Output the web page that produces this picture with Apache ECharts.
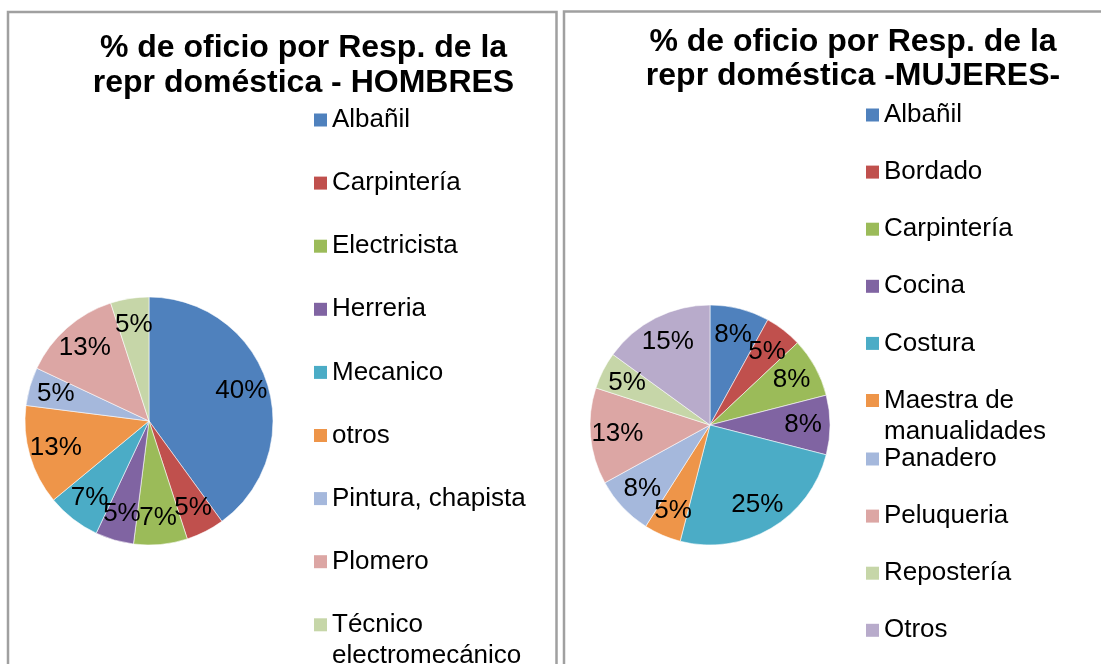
<!DOCTYPE html>
<html>
<head>
<meta charset="utf-8">
<script src="https://cdn.jsdelivr.net/npm/echarts@6/dist/echarts.min.js"></script>
<style>
html,body{margin:0;padding:0;background:#fff;}
#chart{width:1101px;height:664px;}
</style>
</head>
<body>
<div id="chart"></div>
<script>
const hombresCats = ['Albañil', 'Carpintería', 'Electricista', 'Herreria', 'Mecanico', 'otros', 'Pintura, chapista', 'Plomero', 'Técnico electromecánico'];
const hombresValues = [40, 5, 7, 5, 7, 13, 5, 13, 5];
const mujeresCats = ['Albañil', 'Bordado', 'Carpintería', 'Cocina', 'Costura', 'Maestra de manualidades', 'Panadero', 'Peluqueria', 'Repostería', 'Otros'];
const mujeresValues = [8, 5, 8, 8, 25, 5, 8, 13, 5, 15];
const palette = ['#4F81BD', '#C0504D', '#9BBB59', '#8064A2', '#4BACC6', '#EE9549', '#A5B8DC', '#DCA6A4', '#C6D6A8', '#B8ABCB'];
const titleHombres = '% de oficio por Resp. de la\nrepr doméstica - HOMBRES';
const titleMujeres = '% de oficio por Resp. de la\nrepr doméstica -MUJERES-';
const wrappedNames = {
  'Técnico electromecánico': 'Técnico\nelectromecánico',
  'Maestra de manualidades': 'Maestra de\nmanualidades'
};

const FONT = "'Liberation Sans', Arial, sans-serif";
const chart = echarts.init(document.getElementById('chart'), null, {renderer: 'canvas'});

function pieData(cats, vals) {
  return cats.map((c, i) => ({name: c, value: vals[i], itemStyle: {color: palette[i]}}));
}
function legendData(cats, from, to) {
  const out = [];
  for (let i = from; i < to; i++) out.push({name: cats[i], itemStyle: {color: palette[i], borderWidth: 0}});
  return out;
}
function visiblePie(cats, vals, center, r) {
  return {
    type: 'pie', center: center, radius: [0, r], startAngle: 90, clockwise: true,
    avoidLabelOverlap: false, label: {show: false}, labelLine: {show: false},
    itemStyle: {borderColor: 'rgba(255,255,255,0.7)', borderWidth: 0.8},
    emphasis: {disabled: true}, animation: false,
    data: pieData(cats, vals)
  };
}
function labelPie(cats, vals, center, r0, r) {
  return {
    type: 'pie', center: center, radius: [r0, r], startAngle: 90, clockwise: true,
    silent: true, avoidLabelOverlap: false,
    labelLayout: {hideOverlap: false},
    label: {show: true, position: 'inside', formatter: '{c}%', color: '#000', fontSize: 26, fontFamily: FONT},
    labelLine: {show: false},
    itemStyle: {color: 'rgba(0,0,0,0)', borderWidth: 0},
    emphasis: {disabled: true}, animation: false,
    data: cats.map((c, i) => ({name: c, value: vals[i], itemStyle: {color: 'rgba(0,0,0,0)'}}))
  };
}
const legendCommon = {
  orient: 'vertical', icon: 'rect', itemWidth: 13, itemHeight: 13, selectedMode: false,
  padding: 0, height: 800,
  formatter: name => wrappedNames[name] || name,
  textStyle: {fontSize: 26, fontFamily: FONT, color: '#000', lineHeight: 31, height: 31, rich: {z: {}}}
};

chart.setOption({
  backgroundColor: '#fff',
  animation: false,
  graphic: [
    {type: 'rect', shape: {x: 8, y: 12, width: 548.5, height: 700}, style: {fill: 'none', stroke: '#a0a0a0', lineWidth: 2.5}, silent: true},
    {type: 'rect', shape: {x: 564, y: 11.5, width: 600, height: 700}, style: {fill: 'none', stroke: '#a0a0a0', lineWidth: 2.5}, silent: true}
  ],
  title: [
    {text: titleHombres, left: 298.5, top: 26, textAlign: 'center',
     textStyle: {fontSize: 32, fontWeight: 'bold', fontFamily: FONT, color: '#000', lineHeight: 35}},
    {text: titleMujeres, left: 848, top: 20, textAlign: 'center',
     textStyle: {fontSize: 32, fontWeight: 'bold', fontFamily: FONT, color: '#000', lineHeight: 34}}
  ],
  legend: [
    Object.assign({}, legendCommon, {left: 314, top: 104.5, itemGap: 32.1, data: legendData(hombresCats, 0, hombresCats.length)}),
    Object.assign({}, legendCommon, {left: 866, top: 99.5, itemGap: 26.1, data: legendData(mujeresCats, 0, 6)}),
    Object.assign({}, legendCommon, {left: 866, top: 443.5, itemGap: 26.1, data: legendData(mujeresCats, 6, mujeresCats.length)})
  ],
  series: [
    visiblePie(hombresCats, hombresValues, [149, 421], 124),
    visiblePie(mujeresCats, mujeresValues, [710, 425], 120),
    labelPie(hombresCats, hombresValues, [149, 421], 64, 124),
    labelPie(mujeresCats, mujeresValues, [710, 425], 60, 120)
  ]
});
</script>
</body>
</html>
